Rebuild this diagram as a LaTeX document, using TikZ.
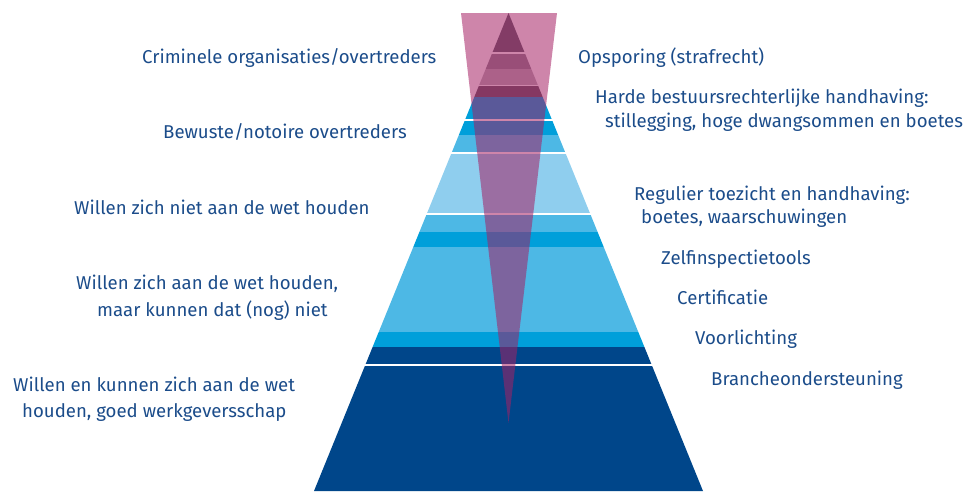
\documentclass[tikz,border=0pt]{standalone}
\usepackage{fontspec}
\setmainfont{Fira Sans}
\definecolor{txtblue}{HTML}{1B4C8A}
\definecolor{dkblue}{HTML}{00468A}
\definecolor{cyanb}{HTML}{009FDA}
\definecolor{midb}{HTML}{4DB8E5}
\definecolor{ltb}{HTML}{8FCEEE}
\definecolor{pinkov}{HTML}{A52065}
\definecolor{magA}{HTML}{833C66}
\definecolor{magB}{HTML}{994E78}
\definecolor{magC}{HTML}{AC6189}
\definecolor{magD}{HTML}{853862}
\begin{document}
\begin{tikzpicture}[x=1pt,y=-1pt,
  lbl/.style={anchor=base west, inner sep=0pt, text=txtblue, font=\fontsize{18.6}{22}\selectfont}]
\useasboundingbox (0,0) rectangle (971,491);
\coordinate (apex) at (508.5,13);
\coordinate (bl) at (314,491);
\coordinate (br) at (703,491);
% blue bands
\begin{scope}
  \clip (apex) -- (br) -- (bl) -- cycle;
  \foreach \a/\b/\c in {97/119/cyanb,120.8/135/cyanb,135/152/midb,153.8/213/ltb,
      215/232/midb,232/247/cyanb,247/332/midb,332/347/cyanb,347/364/dkblue,366/492/dkblue}
    {\fill[\c] (300,\a) rectangle (720,\b);}
\end{scope}
% pink overlay
\coordinate (pl) at (461,13);
\coordinate (pr) at (557,13);
\coordinate (pt) at (508.5,423);
\fill[pinkov, opacity=0.55] (pl) -- (pr) -- (pt) -- cycle;
% top magenta bands
\begin{scope}
  \clip (apex) -- (br) -- (bl) -- cycle;
  \foreach \a/\b/\c in {12/52/magA,53.5/69/magB,69/85/magC,86/97/magD}
    {\fill[\c] (300,\a) rectangle (720,\b);}
\end{scope}
% left labels
\node[lbl] (l1) at (142,63) {Criminele organisaties/overtreders};
\node[lbl] (l2) at (163,138) {Bewuste/notoire overtreders};
\node[lbl] (l3) at (74,214) {Willen zich niet aan de wet houden};
\node[lbl] (l4a) at (76,289) {Willen zich aan de wet houden,};
\node[lbl] (l4b) at (97,316) {maar kunnen dat (nog) niet};
\node[lbl] (l5a) at (13,391) {Willen en kunnen zich aan de wet};
\node[lbl] (l5b) at (22,417) {houden, goed werkgeversschap};
% right labels
\node[lbl] (r1) at (578,63) {Opsporing (strafrecht)};
\node[lbl] (r2a) at (595,103) {Harde bestuursrechterlijke handhaving:};
\node[lbl] (r2b) at (605,127) {stillegging, hoge dwangsommen en boetes};
\node[lbl] (r3a) at (634,200) {Regulier toezicht en handhaving:};
\node[lbl] (r3b) at (641,223) {boetes, waarschuwingen};
\node[lbl] (r4) at (661,264) {Zelfinspectietools};
\node[lbl] (r5) at (677,304) {Certificatie};
\node[lbl] (r6) at (695,344) {Voorlichting};
\node[lbl] (r7) at (711,385) {Brancheondersteuning};
\end{tikzpicture}
\end{document}
